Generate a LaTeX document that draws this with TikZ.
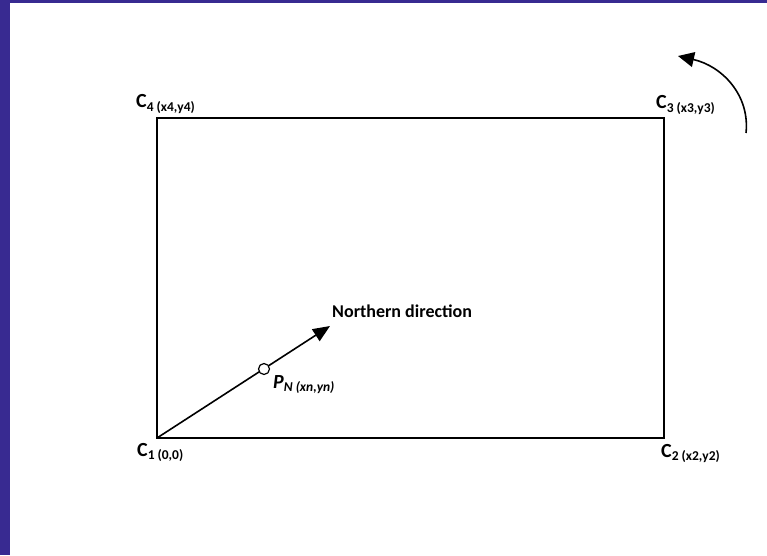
\documentclass[tikz,border=0pt]{standalone}
\usepackage{fontspec}
\setmainfont{Carlito}
\usepackage{tikz}
\usetikzlibrary{arrows.meta}
\definecolor{framebar}{RGB}{56,42,145}

\newcommand{\cornerlabel}[2]{{\fontsize{20}{22}\selectfont C}\raisebox{-0.45ex}{\fontsize{13.5}{15}\selectfont #1 (#2)}}

\begin{document}
\begin{tikzpicture}[
            x=1pt, y=1pt,
            border/.style={line width=1.6pt, line join=miter},
            heading/.style={-{Triangle[length=17pt, width=14pt]}, line width=1.6pt},
            turning/.style={-{Triangle[length=16pt, width=15pt]}, line width=1.6pt},
            cornertext/.style={anchor=base west, inner sep=0pt, font=\bfseries\fontsize{18}{20}\selectfont},
            pointmark/.style={circle, draw, fill=white, line width=1.2pt, minimum size=11pt, inner sep=0pt}
        ]
            \useasboundingbox (0, 0) rectangle (767, 555);

            % frame bars
            \fill[framebar] (0, 0) rectangle (10, 555);
            \fill[framebar] (0, 552) rectangle (767, 555);

            % corners
            \coordinate (c1) at (157, 117);
            \coordinate (c2) at (664, 117);
            \coordinate (c3) at (664, 437);
            \coordinate (c4) at (157, 437);

            % field
            \draw[border] (c1) -- (c2) -- (c3) -- (c4) -- cycle;

            % corner labels
            \node[cornertext] (l1) at (137, 99) {\cornerlabel{1}{0,0}};
            \node[cornertext] (l2) at (661, 98) {\cornerlabel{2}{x2,y2}};
            \node[cornertext] (l3) at (656, 446) {\cornerlabel{3}{x3,y3}};
            \node[cornertext] (l4) at (136, 447) {\cornerlabel{4}{x4,y4}};

            % northern direction
            \coordinate (north) at (330, 229);
            \draw[heading] (c1) -- (north);
            \node[cornertext] (ltext) at (332, 238) {Northern direction};

            % point
            \node[pointmark] (pn) at (264, 186) {};
            \node[cornertext] (lpn) at (273, 167) {\itshape{\fontsize{20}{22}\selectfont P}\raisebox{-0.45ex}{\fontsize{13.5}{15}\selectfont N (xn,yn)}};

            % rotation
            \coordinate (rstart) at (746, 422);
            \coordinate (rend) at (678, 499);
            \draw[turning] (rstart) .. controls (750, 460) and (722, 489) .. (rend);

        \end{tikzpicture}
\end{document}
